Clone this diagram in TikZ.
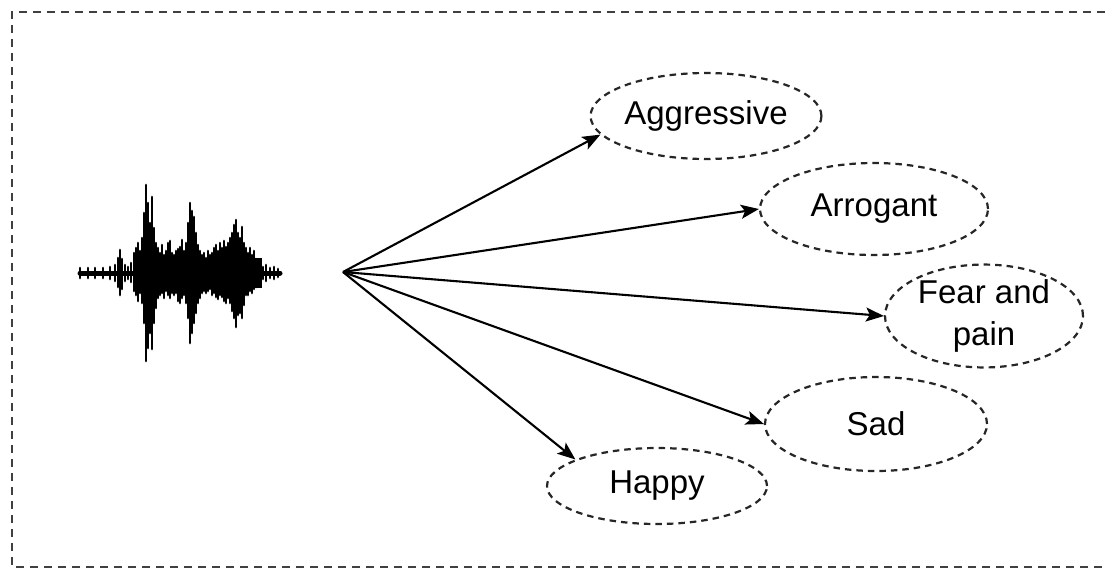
\documentclass[tikz,border=0pt]{standalone}
\usepackage{fontspec}
\setmainfont{Liberation Sans}
\usetikzlibrary{shapes.geometric,arrows.meta}
\begin{document}
\begin{tikzpicture}[x=1pt,y=-1pt,
  emo/.style={ellipse,draw=black!85,line width=2.2pt,dash pattern=on 6.5pt off 5pt,inner sep=0pt,align=center,font=\fontsize{33}{42}\selectfont},
  conn/.style={line width=2.1pt,-{Stealth[length=18pt,width=14pt,inset=4pt]}},
  frame/.style={draw=black!75,line width=2pt,dash pattern=on 8pt off 6pt},
  bar/.style={line width=2.7pt,line cap=round}]
\useasboundingbox (0,0) rectangle (1105,571);
\draw[frame] (1105,12) -- (12,12) -- (12,567) -- (1105,567);
% waveform
\draw[line width=5pt,line cap=round] (80,273) -- (280,273);
\fill (133,258) rectangle (262,288);
\foreach \x/\u/\d in {80/5/5,88/5/5,95/5/5,103/5/5,110/6/6,115/8/8,118/15/14,120/23/22,122/14/16,125/8/8,128/6/6,131/10/9,134/20/18,136/25/22,138/30/28,140/22/20,142/35/30,144/60/50,146/88/88,148/70/75,150/50/60,152/76/76,154/45/50,156/30/35,158/25/25,160/20/22,162/28/20,164/18/25,166/22/18,168/30/22,170/32/25,172/20/20,174/18/22,176/22/20,178/24/28,180/26/30,182/33/25,184/22/22,186/30/30,188/50/45,190/70/70,192/62/60,194/56/50,196/40/40,198/28/30,200/22/25,202/18/20,204/20/18,206/15/20,208/22/18,210/18/16,212/20/22,214/25/20,216/28/24,218/22/26,220/30/22,222/25/24,224/32/28,226/26/30,228/30/25,230/35/30,232/40/38,234/48/45,236/53/54,238/40/42,240/35/40,242/46/45,244/30/32,246/25/22,248/20/22,250/25/18,252/18/20,254/22/16,256/14/14,258/12/12,260/8/10,263/6/6,266/8/8,270/5/5,274/6/6,278/4/4}
  \draw[bar] (\x,273-\u) -- (\x,273+\d);
\coordinate (hub) at (343,272);
\node[emo,minimum width=222pt,minimum height=86pt] (agg) at (706,116) {Aggressive};
\node[emo,minimum width=228pt,minimum height=92pt] (arr) at (874,209) {Arrogant};
\node[emo,minimum width=198pt,minimum height=98pt] (fear) at (984,316) {Fear and\\pain};
\node[emo,minimum width=222pt,minimum height=94pt] (sad) at (876,424) {Sad};
\node[emo,minimum width=220pt,minimum height=76pt] (hap) at (657,486) {Happy};
\draw[conn] (hub) -- (agg.190);
\draw[conn] (hub) -- (arr.west);
\draw[conn] (hub) -- (fear.west);
\draw[conn] (hub) -- (sad.west);
\draw[conn] (hub) -- (hap.162);
\end{tikzpicture}
\end{document}
